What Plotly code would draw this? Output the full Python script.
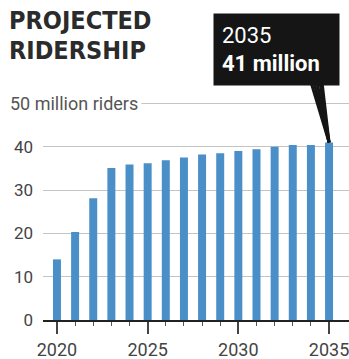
import plotly.graph_objects as go

years = list(range(2020, 2036))
riders = [14.0, 20.3, 28.1, 35.1, 35.9, 36.2, 36.9, 37.5, 38.2, 38.5, 39.0, 39.4, 40.0, 40.4, 40.4, 41.0]
y_ticks = [0, 10, 20, 30, 40, 50]
y_ticktext = ["0", "10", "20", "30", "40", ""]
x_ticks = [2020, 2025, 2030, 2035]
title_lines = ["PROJECTED", "RIDERSHIP"]
unit_label = "50 million riders"
callout_year = "2035"
callout_value = "41 million"

W, H = 349, 359
L, R, T, B = 43, 0, 100, 39
PW, PH = W - L - R, H - T - B

def px_x(p):
    return (p - L) / PW

def px_y(p):
    return (H - B - p) / PH

BASE = "Roboto, sans-serif"
TITLE_FONT = "Liberation Sans Narrow, DejaVu Sans Condensed, sans-serif"

fig = go.Figure()
fig.add_trace(go.Bar(x=years, y=riders, marker=dict(color="#4a8fc8", line=dict(width=0)),
                     hoverinfo="skip"))

annotations = []
for i, line in enumerate(title_lines):
    annotations.append(dict(
        text="<b>%s</b>" % line, xref="paper", yref="paper",
        x=px_x(7), y=px_y([20, 50.5][i]), xanchor="left", yanchor="middle",
        showarrow=False, font=dict(family=TITLE_FONT, size=25, color="#2b2b2b")))

annotations.append(dict(
    text=unit_label, xref="paper", yref="y", x=px_x(6), y=y_ticks[-1],
    xanchor="left", yanchor="middle", showarrow=False, bgcolor="white", borderpad=3,
    font=dict(family=BASE, size=18, color="#555555")))

# pointer wedge (several converging arrows)
for ax in [-18, -15, -12, -9, -7]:
    annotations.append(dict(
        text="", x=years[-1], y=riders[-1], xref="x", yref="y",
        showarrow=True, arrowhead=0, arrowwidth=3, arrowcolor="#151515",
        ax=ax, ay=-60, standoff=0, startstandoff=0))

annotations.append(dict(
    text="%s<br><b>%s</b>" % (callout_year, callout_value),
    xref="paper", yref="paper", x=px_x(212.7), y=px_y(13),
    xanchor="left", yanchor="top", align="left", valign="middle",
    width=109, height=55, borderpad=8, bgcolor="#151515", showarrow=False,
    font=dict(family=BASE, size=22, color="white")))

fig.update_layout(
    width=W, height=H,
    margin=dict(l=L, r=R, t=T, b=B, pad=0),
    paper_bgcolor="white", plot_bgcolor="white",
    showlegend=False, bargap=0.56,
    annotations=annotations,
    xaxis=dict(
        range=[2019.23, 2036.1], tickmode="array", tickvals=x_ticks,
        ticks="outside", ticklen=12, tickwidth=1.5, tickcolor="#444444",
        showgrid=False, zeroline=False, ticklabeloverflow="allow",
        showline=True, linecolor="#222222", linewidth=2,
        tickfont=dict(family=BASE, size=18, color="#444444"),
        minor=dict(tickmode="array", tickvals=years, ticks="outside", ticklen=4, tickwidth=1,
                   tickcolor="#555555", showgrid=False),
        fixedrange=True),
    yaxis=dict(
        range=[0, 50.8], tickmode="array", tickvals=y_ticks, ticktext=y_ticktext,
        showgrid=True, gridcolor="#c4c4c4", gridwidth=1, zeroline=False,
        ticks="", ticklabelstandoff=9,
        tickfont=dict(family=BASE, size=17, color="#444444"),
        fixedrange=True),
)

fig.write_html("out.html", config={"displayModeBar": False})
